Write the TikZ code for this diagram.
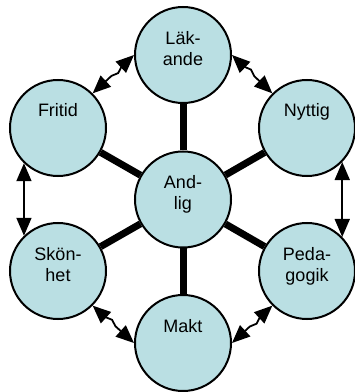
\documentclass[tikz,border=0pt]{standalone}
\usepackage{fontspec}
\setmainfont{Liberation Sans}
\usetikzlibrary{arrows.meta,decorations.pathmorphing}
\definecolor{circfill}{HTML}{BADFE3}
\begin{document}
\begin{tikzpicture}[x=1pt,y=1pt,
  >={Stealth[length=18pt,width=15pt,inset=0pt]},
  circ/.style={circle,draw=black,line width=2pt,fill=circfill,minimum size=96pt,inner sep=0pt},
  lbl/.style={anchor=north,inner sep=0pt,align=center,font=\fontsize{18}{21}\selectfont},
  spoke/.style={line width=7pt},
  dbl/.style={line width=1.8pt,<->},
  wavy/.style={dbl,decorate,decoration={snake,amplitude=2.5pt,segment length=22pt,pre length=17pt,post length=17pt}}]
\useasboundingbox (0,0) rectangle (355,392);
\node[circ] (lak) at (183,337) {};
\node[circ] (fritid) at (58,264) {};
\node[circ] (nyttig) at (307,264) {};
\node[circ] (andlig) at (183,192.5) {};
\node[circ] (skonhet) at (58,121) {};
\node[circ] (peda) at (307,121) {};
\node[circ] (makt) at (183,49) {};
\foreach \n in {lak,fritid,nyttig,skonhet,peda,makt}
  \draw[spoke] (andlig) -- (\n);
\node[lbl] (lakt) at ([yshift=24pt]lak.center) {Läk-\\ande};
\node[lbl] (fritidt) at ([yshift=24.5pt]fritid.center) {Fritid};
\node[lbl] (nyttigt) at ([yshift=24.5pt]nyttig.center) {Nyttig};
\node[lbl] (andligt) at ([yshift=24pt]andlig.center) {And-\\lig};
\node[lbl] (skonhett) at ([yshift=24pt]skonhet.center) {Skön-\\het};
\node[lbl] (pedat) at ([yshift=24pt]peda.center) {Peda-\\gogik};
\node[lbl] (maktt) at ([yshift=24pt]makt.center) {Makt};
\draw[dbl] (fritid.226) -- (skonhet.134);
\draw[dbl] (nyttig.-44) -- (peda.44);
\draw[wavy] (lak.180) -- (fritid.45);
\draw[wavy] (lak.0) -- (nyttig.135);
\draw[wavy] (skonhet.-45) -- (makt.180);
\draw[wavy] (peda.-135) -- (makt.0);
\end{tikzpicture}
\end{document}
